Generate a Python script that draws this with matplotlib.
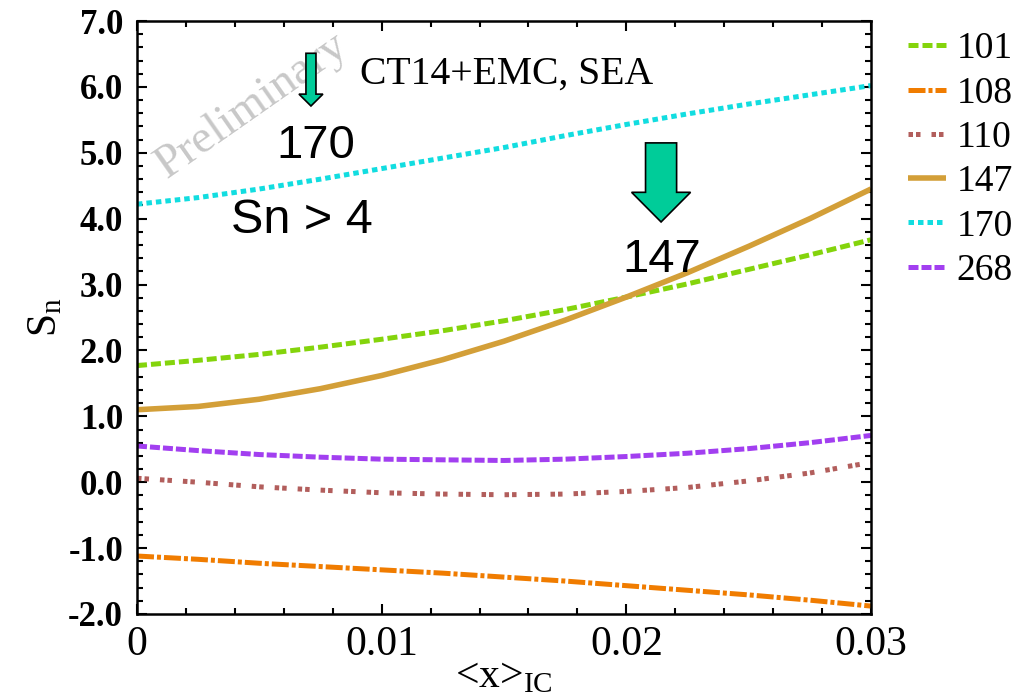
import matplotlib
matplotlib.use("Agg")
import matplotlib.pyplot as plt
from matplotlib.patches import FancyArrow
from matplotlib.ticker import MultipleLocator, FixedLocator

plt.rcParams['font.family'] = ['Liberation Serif', 'DejaVu Serif']
plt.rcParams['mathtext.fontset'] = 'custom'
plt.rcParams['mathtext.rm'] = 'Liberation Serif'
plt.rcParams['mathtext.it'] = 'Liberation Serif:italic'

x_ic = [0.0, 0.0025, 0.005, 0.0075, 0.01, 0.0125, 0.015, 0.0175, 0.02, 0.0225, 0.025, 0.0275, 0.03]
sn_101 = [1.77, 1.85, 1.94, 2.05, 2.17, 2.30, 2.45, 2.62, 2.81, 3.01, 3.23, 3.45, 3.68]
sn_108 = [-1.12, -1.17, -1.23, -1.28, -1.33, -1.38, -1.44, -1.50, -1.57, -1.64, -1.71, -1.79, -1.88]
sn_110 = [0.06, 0.00, -0.07, -0.12, -0.16, -0.18, -0.19, -0.18, -0.14, -0.08, 0.02, 0.14, 0.30]
sn_147 = [1.10, 1.15, 1.26, 1.42, 1.62, 1.86, 2.14, 2.46, 2.81, 3.18, 3.58, 4.00, 4.45]
sn_170 = [4.22, 4.32, 4.45, 4.60, 4.76, 4.92, 5.08, 5.26, 5.43, 5.59, 5.74, 5.88, 6.02]
sn_268 = [0.55, 0.48, 0.42, 0.38, 0.35, 0.34, 0.33, 0.35, 0.39, 0.44, 0.51, 0.60, 0.71]

series_labels = ['101', '108', '110', '147', '170', '268']
y_ticks = [-2.0, -1.0, 0.0, 1.0, 2.0, 3.0, 4.0, 5.0, 6.0, 7.0]
x_ticks = [0.0, 0.01, 0.02, 0.03]
x_tick_labels = ['0', '0.01', '0.02', '0.03']

fig = plt.figure(figsize=(10.31, 6.98), dpi=100)
ax = fig.add_axes([137/1031, 1 - 614/698, 734/1031, 593/698])

lw = 3.6
styles = [
    dict(color='#84d40c', dashes=(2.0, 0.8)),
    dict(color='#f07c00', dashes=(3.4, 0.6, 0.8, 0.6)),
    dict(color='#b25e5c', dashes=(0.9, 0.6, 0.9, 2.2)),
    dict(color='#d39f38', linestyle='-', lw=4.0),
    dict(color='#12dde0', dashes=(1.1, 0.8)),
    dict(color='#a23ff0', dashes=(2.0, 0.6)),
]
data = [sn_101, sn_108, sn_110, sn_147, sn_170, sn_268]
for ys, lab, st in zip(data, series_labels, styles):
    kw = dict(lw=lw)
    kw.update(st)
    ax.plot(x_ic, ys, label=lab, solid_capstyle='butt', dash_capstyle='butt', **kw)

ax.set_xlim(0, 0.03)
ax.set_ylim(-2.0, 7.0)
ax.xaxis.set_major_locator(FixedLocator(x_ticks))
ax.set_xticklabels(x_tick_labels)
ax.xaxis.set_minor_locator(MultipleLocator(0.002))
ax.yaxis.set_major_locator(FixedLocator(y_ticks))
ax.set_yticklabels([f"{v:.1f}" for v in y_ticks])
ax.yaxis.set_minor_locator(MultipleLocator(0.2))
ax.tick_params(which='both', direction='in', top=True, right=True, width=1.5)
ax.tick_params(which='major', length=7)
ax.tick_params(which='minor', length=4)
ax.tick_params(axis='x', labelsize=30, pad=8)
ax.tick_params(axis='y', labelsize=25, pad=10)
for t in ax.get_yticklabels():
    t.set_fontweight('bold')
for s in ax.spines.values():
    s.set_linewidth(1.8)

ax.set_ylabel(r'S$_{\mathrm{n}}$', fontsize=30, labelpad=2)
ax.set_xlabel(r'<x>$_{\mathrm{IC}}$', fontsize=30, labelpad=-4)

# annotations
ax.text(0.0091, 6.2, 'CT14+EMC, SEA', fontsize=28.5, ha='left', va='center')
ax.text(0.0073, 5.1, '170', fontsize=34, family=['Liberation Sans'], ha='center', va='center')
ax.text(0.00675, 3.97, 'Sn > 4', fontsize=35, family=['Liberation Sans'], ha='center', va='center')
ax.text(0.02146, 3.38, '147', fontsize=34, family=['Liberation Sans'], ha='center', va='center')
ax.text(0.0047, 5.71, 'Preliminary', fontsize=34, color='#c8c8c8', rotation=35,
        ha='center', va='center')

ax.add_patch(FancyArrow(0.00711, 6.51, 0, -0.80, width=0.00041, head_width=0.00098,
                        head_length=0.18, length_includes_head=True,
                        facecolor='#00cc99', edgecolor='black', lw=1.2, zorder=5))
ax.add_patch(FancyArrow(0.02142, 5.15, 0, -1.20, width=0.00127, head_width=0.00241,
                        head_length=0.45, length_includes_head=True,
                        facecolor='#00cc99', edgecolor='black', lw=1.2, zorder=5))

fig.legend(loc='upper left', bbox_to_anchor=(893/1031, 1 - 17/698), frameon=False,
           fontsize=27, handlelength=1.0, handletextpad=0.3, labelspacing=0.26,
           borderaxespad=0)

fig.savefig('out.png', dpi=100)
